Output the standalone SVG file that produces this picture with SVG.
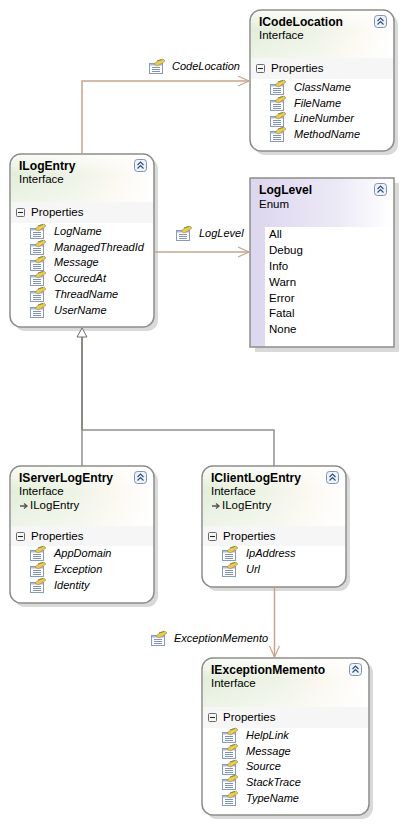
<svg xmlns="http://www.w3.org/2000/svg" width="403" height="824" viewBox="0 0 403 824">
<style>
text{font-family:"Liberation Sans",Arial,sans-serif;font-size:11.5px;fill:#000}
.t{font-weight:700;font-size:12.1px}
.i{font-style:italic;font-size:11px}
.box{fill:#fff;stroke:#8d8d88;stroke-width:1.5}
.sh{fill:#d9d9d9}
.band{fill:#f6f6f6}
.rel{fill:none;stroke:#c9a48c;stroke-width:1.5}
.inh{fill:none;stroke:#90908a;stroke-width:1.5}
</style>
<defs>
<linearGradient id="g" x1="0" x2="1" y1="0" y2="0"><stop offset="0" stop-color="#e3eeda"/><stop offset=".45" stop-color="#eef3e6"/><stop offset=".72" stop-color="#fbf8f0"/><stop offset="1" stop-color="#fff"/></linearGradient>
<linearGradient id="fade" x1="0" x2="0" y1="0" y2="1"><stop offset="0" stop-color="#fff" stop-opacity=".75"/><stop offset=".4" stop-color="#fff" stop-opacity="0"/><stop offset="1" stop-color="#fff" stop-opacity=".35"/></linearGradient>
<linearGradient id="e" x1="0" x2="1" y1="0" y2="0"><stop offset="0" stop-color="#dcd6ee"/><stop offset=".6" stop-color="#ece9f6"/><stop offset="1" stop-color="#fff"/></linearGradient>
<g id="icon"><rect x=".5" y="4.500" width="13" height="10" fill="#fff" stroke="#8a9abb"/><rect x="1" y="5" width="12" height="1.500" fill="#a9bbdd"/><path d="M3 8.500h8M3 10.500h8M3 12.500h8" stroke="#7d92bd"/><path d="M5 5 9 1.500 14 0 16 2 12 5 8 7Z" fill="#eec74e" stroke="#8a7a30" stroke-width=".5"/><path d="M8 2 13 .5" stroke="#5a9a50"/></g>
<g id="col"><rect x=".5" y=".5" width="12" height="12" rx="3" fill="#eef2fa" stroke="#7f93b5"/><path d="M3.500 6 6.500 3 9.500 6M3.500 9.500 6.500 6.500 9.500 9.500" fill="none" stroke="#2c4c7c" stroke-width="1.100"/></g>
<g id="minus"><rect x=".5" y=".5" width="8" height="8" rx="1" fill="#f4f4f4" stroke="#6b6b6b"/><path d="M2 4.500h5" stroke="#222"/></g>
<marker id="open" markerUnits="userSpaceOnUse" markerWidth="14" markerHeight="12" refX="12" refY="6" orient="auto"><path d="M1 1 12 6 1 11" fill="none" stroke="#c9a48c" stroke-width="1.200"/></marker>
</defs>
<g id="ICodeLocation" transform="translate(250 10)">
<rect class="sh" x="4" y="4" width="144" height="141" rx="11"/><rect class="box" width="144" height="141" rx="11"/>
<path d="M1 48V11A10 10 0 0 1 11 1H133A10 10 0 0 1 143 11V48Z" fill="url(#g)"/><path d="M1 48V11A10 10 0 0 1 11 1H133A10 10 0 0 1 143 11V48Z" fill="url(#fade)"/>
<rect class="band" x="1" y="48" width="142" height="21"/>
<text class="t" x="9" y="16">ICodeLocation</text><text x="9" y="29">Interface</text><use href="#col" x="124" y="5"/>
<use href="#minus" x="6" y="54"/><text x="21" y="62">Properties</text>
<use href="#icon" x="20" y="70"/><text class="i" x="44" y="81">ClassName</text>
<use href="#icon" x="20" y="86"/><text class="i" x="44" y="97">FileName</text>
<use href="#icon" x="20" y="102"/><text class="i" x="44" y="112">LineNumber</text>
<use href="#icon" x="20" y="117"/><text class="i" x="44" y="128">MethodName</text>
</g>
<g id="ILogEntry" transform="translate(10 154)">
<rect class="sh" x="4" y="4" width="144" height="173" rx="11"/><rect class="box" width="144" height="173" rx="11"/>
<path d="M1 48V11A10 10 0 0 1 11 1H133A10 10 0 0 1 143 11V48Z" fill="url(#g)"/><path d="M1 48V11A10 10 0 0 1 11 1H133A10 10 0 0 1 143 11V48Z" fill="url(#fade)"/>
<rect class="band" x="1" y="48" width="142" height="21"/>
<text class="t" x="9" y="16">ILogEntry</text><text x="9" y="29">Interface</text><use href="#col" x="124" y="5"/>
<use href="#minus" x="6" y="54"/><text x="21" y="62">Properties</text>
<use href="#icon" x="20" y="70"/><text class="i" x="44" y="81">LogName</text>
<use href="#icon" x="20" y="86"/><text class="i" x="44" y="97">ManagedThreadId</text>
<use href="#icon" x="20" y="102"/><text class="i" x="44" y="112">Message</text>
<use href="#icon" x="20" y="117"/><text class="i" x="44" y="128">OccuredAt</text>
<use href="#icon" x="20" y="133"/><text class="i" x="44" y="144">ThreadName</text>
<use href="#icon" x="20" y="149"/><text class="i" x="44" y="160">UserName</text>
</g>
<g id="LogLevel" transform="translate(250 178)">
<rect class="sh" x="5" y="5" width="144" height="169"/><rect width="144" height="169" fill="url(#e)"/>
<rect x="15" y="49" width="129" height="120" fill="#fff"/><rect width="144" height="169" fill="none" stroke="#8d8d88" stroke-width="1.500"/>
<text class="t" x="9" y="16">LogLevel</text><text x="9" y="30">Enum</text><use href="#col" x="124" y="5"/>
<text x="19" y="60">All</text><text x="19" y="76">Debug</text><text x="19" y="92">Info</text><text x="19" y="108">Warn</text><text x="19" y="124">Error</text><text x="19" y="139">Fatal</text><text x="19" y="155">None</text>
</g>
<g id="IServerLogEntry" transform="translate(10 466)">
<rect class="sh" x="4" y="4" width="144" height="137" rx="11"/><rect class="box" width="144" height="137" rx="11"/>
<path d="M1 60V11A10 10 0 0 1 11 1H133A10 10 0 0 1 143 11V60Z" fill="url(#g)"/><path d="M1 60V11A10 10 0 0 1 11 1H133A10 10 0 0 1 143 11V60Z" fill="url(#fade)"/>
<rect class="band" x="1" y="60" width="142" height="20"/>
<text class="t" x="9" y="16">IServerLogEntry</text><text x="9" y="29">Interface</text><path d="M10 40H16M14 37.500 17 40 14 42.500" fill="none" stroke="#555" stroke-width="1.300"/><text x="20" y="43">ILogEntry</text><use href="#col" x="124" y="5"/>
<use href="#minus" x="6" y="66"/><text x="21" y="74">Properties</text>
<use href="#icon" x="20" y="80"/><text class="i" x="44" y="91">AppDomain</text>
<use href="#icon" x="20" y="96"/><text class="i" x="44" y="107">Exception</text>
<use href="#icon" x="20" y="112"/><text class="i" x="44" y="123">Identity</text>
</g>
<g id="IClientLogEntry" transform="translate(202 466)">
<rect class="sh" x="4" y="4" width="144" height="121" rx="11"/><rect class="box" width="144" height="121" rx="11"/>
<path d="M1 60V11A10 10 0 0 1 11 1H133A10 10 0 0 1 143 11V60Z" fill="url(#g)"/><path d="M1 60V11A10 10 0 0 1 11 1H133A10 10 0 0 1 143 11V60Z" fill="url(#fade)"/>
<rect class="band" x="1" y="60" width="142" height="20"/>
<text class="t" x="9" y="16">IClientLogEntry</text><text x="9" y="29">Interface</text><path d="M10 40H16M14 37.500 17 40 14 42.500" fill="none" stroke="#555" stroke-width="1.300"/><text x="20" y="43">ILogEntry</text><use href="#col" x="124" y="5"/>
<use href="#minus" x="6" y="66"/><text x="21" y="74">Properties</text>
<use href="#icon" x="20" y="80"/><text class="i" x="44" y="91">IpAddress</text>
<use href="#icon" x="20" y="96"/><text class="i" x="44" y="107">Url</text>
</g>
<g id="IExceptionMemento" transform="translate(202 658)">
<rect class="sh" x="4" y="4" width="167" height="157" rx="11"/><rect class="box" width="167" height="157" rx="11"/>
<path d="M1 49V11A10 10 0 0 1 11 1H156A10 10 0 0 1 166 11V49Z" fill="url(#g)"/><path d="M1 49V11A10 10 0 0 1 11 1H156A10 10 0 0 1 166 11V49Z" fill="url(#fade)"/>
<rect class="band" x="1" y="49" width="165" height="21"/>
<text class="t" x="9" y="16">IExceptionMemento</text><text x="9" y="29">Interface</text><use href="#col" x="147" y="5"/>
<use href="#minus" x="6" y="55"/><text x="21" y="63">Properties</text>
<use href="#icon" x="20" y="70"/><text class="i" x="44" y="81">HelpLink</text>
<use href="#icon" x="20" y="86"/><text class="i" x="44" y="97">Message</text>
<use href="#icon" x="20" y="102"/><text class="i" x="44" y="112">Source</text>
<use href="#icon" x="20" y="117"/><text class="i" x="44" y="128">StackTrace</text>
<use href="#icon" x="20" y="133"/><text class="i" x="44" y="144">TypeName</text>
</g>
<g id="connectors">
<path class="rel" d="M82 153V81H249" marker-end="url(#open)"/>
<path class="rel" d="M155 252H249" marker-end="url(#open)"/>
<path class="rel" d="M274.500 588V657" marker-end="url(#open)"/>
<path class="inh" d="M82 466V430H274V466"/>
<path d="M82 337V430" fill="none" stroke="#8a8a84" stroke-width="2"/>
<path d="M82 328 77 337H87Z" fill="#fff" stroke="#70706a"/>
<g id="label-codelocation"><use href="#icon" x="149" y="59"/><text class="i" x="172" y="70">CodeLocation</text></g>
<g id="label-loglevel"><use href="#icon" x="176" y="226"/><text class="i" x="199" y="237">LogLevel</text></g>
<g id="label-exceptionmemento"><use href="#icon" x="151" y="631"/><text class="i" x="174" y="642">ExceptionMemento</text></g>
</g>
</svg>
